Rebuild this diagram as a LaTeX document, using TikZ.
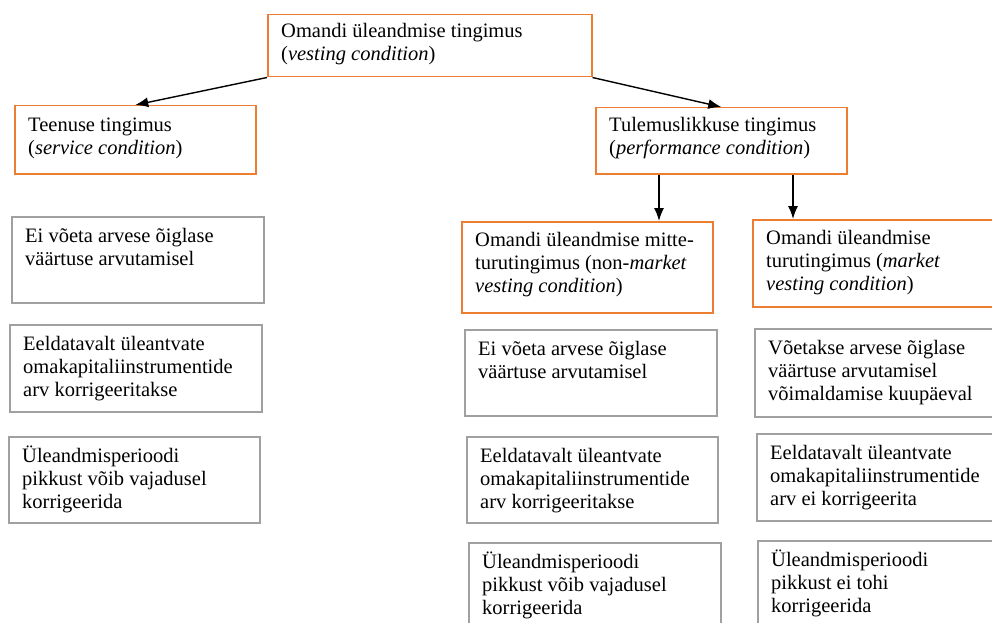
\documentclass[tikz,border=0pt]{standalone}
\usepackage{fontspec}
\setmainfont{Liberation Serif}
\usetikzlibrary{arrows.meta}

\definecolor{oranz}{RGB}{237,125,49}
\definecolor{hall}{RGB}{160,160,160}

\tikzset{
  kast/.style={draw=hall, line width=1.5pt, anchor=north west, inner sep=0pt},
  okast/.style={kast, draw=oranz},
  tekst/.style={anchor=north west, align=left, inner sep=0pt, xshift=14pt, yshift=-10pt,
    font=\fontsize{20.5}{23}\selectfont},
  nool/.style={-{Latex[length=13pt,width=10pt]}, line width=1.4pt},
}

\begin{document}
\begin{tikzpicture}[x=1pt, y=-1pt]
    \clip (0,0) rectangle (992,623);

    % tingimused
    \node[okast, minimum width=324pt, minimum height=62pt] (vest) at (267,14) {};
    \node[tekst, yshift=3pt] at (vest.north west) {\strut Omandi üleandmise tingimus\\(\textit{vesting condition})};

    \node[okast, minimum width=241pt, minimum height=68pt] (teen) at (14,105) {};
    \node[tekst] at (teen.north west) {\strut Teenuse tingimus\\(\textit{service condition})};

    \node[okast, minimum width=251pt, minimum height=66pt] (tul) at (595,107) {};
    \node[tekst, yshift=2pt] at (tul.north west) {\strut Tulemuslikkuse tingimus\\(\textit{performance condition})};

    \node[okast, minimum width=251pt, minimum height=91pt] (mitte) at (461,221) {};
    \node[tekst, yshift=1pt] at (mitte.north west) {\strut Omandi üleandmise mitte-\\turutingimus (non-\textit{market}\\\textit{vesting condition})};

    \node[okast, minimum width=258pt, minimum height=87pt] (turu) at (752,219) {};
    \node[tekst, yshift=1pt] at (turu.north west) {\strut Omandi üleandmise\\turutingimus (\textit{market}\\\textit{vesting condition})};

    % teenuse tingimus
    \node[kast, minimum width=252pt, minimum height=86pt] (t1) at (11,216) {};
    \node[tekst] at (t1.north west) {\strut Ei võeta arvese õiglase\\väärtuse arvutamisel};
    \node[kast, minimum width=252pt, minimum height=87pt] (t2) at (9,324) {};
    \node[tekst] at (t2.north west) {\strut Eeldatavalt üleantvate\\omakapitaliinstrumentide\\arv korrigeeritakse};
    \node[kast, minimum width=251pt, minimum height=86pt] (t3) at (8,436) {};
    \node[tekst] at (t3.north west) {\strut Üleandmisperioodi\\pikkust võib vajadusel\\korrigeerida};

    % mitte-turutingimus
    \node[kast, minimum width=252pt, minimum height=86pt] (m1) at (464,329) {};
    \node[tekst] at (m1.north west) {\strut Ei võeta arvese õiglase\\väärtuse arvutamisel};
    \node[kast, minimum width=251pt, minimum height=86pt] (m2) at (466,436) {};
    \node[tekst] at (m2.north west) {\strut Eeldatavalt üleantvate\\omakapitaliinstrumentide\\arv korrigeeritakse};
    \node[kast, minimum width=252pt, minimum height=100pt] (m3) at (468,542) {};
    \node[tekst] at (m3.north west) {\strut Üleandmisperioodi\\pikkust võib vajadusel\\korrigeerida};

    % turutingimus
    \node[kast, minimum width=256pt, minimum height=88pt] (r1) at (754,328) {};
    \node[tekst] at (r1.north west) {\strut Võetakse arvese õiglase\\väärtuse arvutamisel\\võimaldamise kuupäeval};
    \node[kast, minimum width=254pt, minimum height=87pt] (r2) at (756,433) {};
    \node[tekst] at (r2.north west) {\strut Eeldatavalt üleantvate\\omakapitaliinstrumentide\\arv ei korrigeerita};
    \node[kast, minimum width=253pt, minimum height=100pt] (r3) at (757,540) {};
    \node[tekst] at (r3.north west) {\strut Üleandmisperioodi\\pikkust ei tohi\\korrigeerida};

    % nooled
    \draw[nool] (vest.south west) -- (teen.north);
    \draw[nool] (vest.south east) -- (tul.north);
    \draw[nool] ([xshift=64pt]tul.south west) -- ([xshift=64pt]tul.south west |- mitte.north);
    \draw[nool] ([xshift=198pt]tul.south west) -- ([xshift=198pt]tul.south west |- turu.north);
\end{tikzpicture}
\end{document}
